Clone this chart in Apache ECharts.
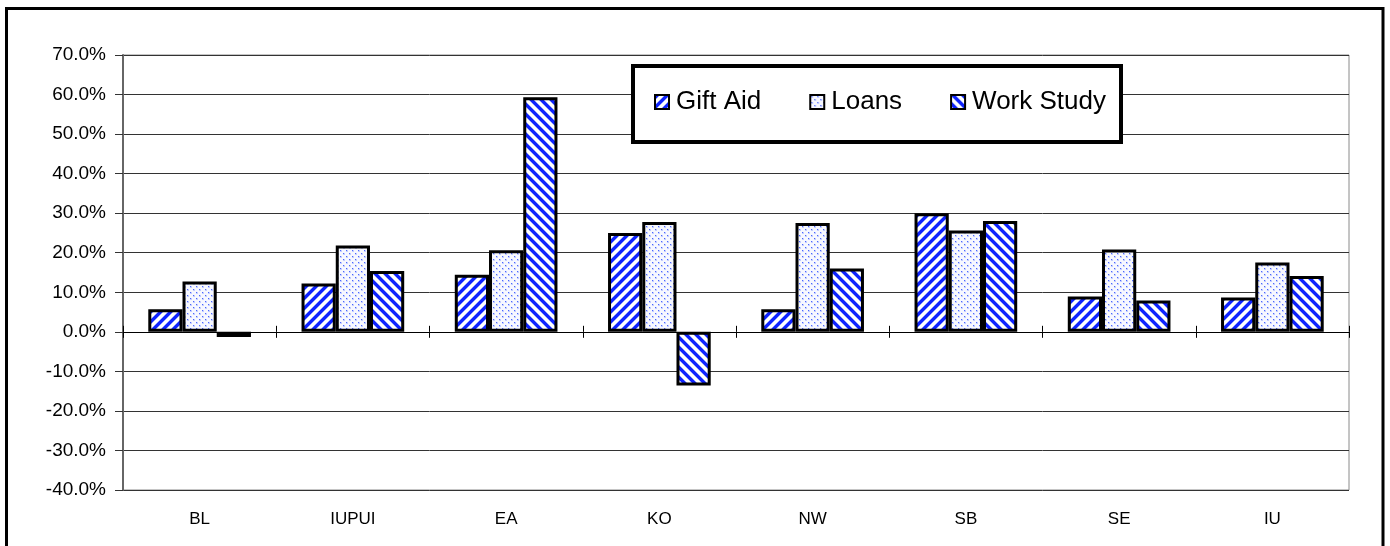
<!DOCTYPE html>
<html>
<head>
<meta charset="utf-8">
<script src="https://cdn.jsdelivr.net/npm/echarts@6/dist/echarts.min.js"></script>
<style>
html,body{margin:0;padding:0;background:#fff;}
#chart{width:1390px;height:546px;}
</style>
</head>
<body>
<div id="chart"></div>
<script>
const categories = ['BL', 'IUPUI', 'EA', 'KO', 'NW', 'SB', 'SE', 'IU'];
const giftAid   = [5.7, 12.2, 14.4, 25.0, 5.7, 30.0, 8.9, 8.7];
const loans     = [12.7, 21.8, 20.6, 27.8, 27.5, 25.6, 20.8, 17.5];
const workStudy = [-1.3, 15.4, 59.3, -13.6, 16.0, 28.0, 7.9, 14.1];
const seriesNames = ['Gift Aid', 'Loans', 'Work Study'];
const yMin = -40, yMax = 70, yStep = 10;

function stripeTile(dir) {
  const n = 10, c = document.createElement('canvas');
  c.width = n; c.height = n;
  const ctx = c.getContext('2d');
  const img = ctx.createImageData(n, n);
  for (let y = 0; y < n; y++) for (let x = 0; x < n; x++) {
    const k = dir > 0 ? ((x + y) % n) : (((x - y) % n) + n) % n;
    let r = 255, g = 255, b = 255;
    if (k < 4) { r = 15; g = 35; b = 255; }
    else if (k === 4 || k === 9) { r = 150; g = 165; b = 255; }
    const i = (y * n + x) * 4;
    img.data[i] = r; img.data[i+1] = g; img.data[i+2] = b; img.data[i+3] = 255;
  }
  ctx.putImageData(img, 0, 0);
  return c;
}
function dotTile() {
  const n = 6, c = document.createElement('canvas');
  c.width = n; c.height = n;
  const ctx = c.getContext('2d');
  ctx.fillStyle = '#f7f8ff'; ctx.fillRect(0, 0, n, n);
  ctx.fillStyle = '#c4cdff';
  ctx.fillRect(0, 0, 3, 3); ctx.fillRect(3, 3, 3, 3);
  ctx.fillStyle = '#f7f8ff';
  ctx.fillRect(0, 0, 3, 1); ctx.fillRect(0, 0, 1, 3); ctx.fillRect(3, 3, 3, 1); ctx.fillRect(3, 3, 1, 3);
  ctx.fillStyle = '#4a66ff';
  ctx.fillRect(1, 1, 1, 1); ctx.fillRect(4, 4, 1, 1);
  return c;
}
const fills = [
  { image: stripeTile(1), repeat: 'repeat' },
  { image: dotTile(), repeat: 'repeat' },
  { image: stripeTile(-1), repeat: 'repeat' }
];
const dataSets = [giftAid, loans, workStudy];

const chart = echarts.init(document.getElementById('chart'), null, { renderer: 'canvas' });
const font = "'Liberation Sans', Arial, sans-serif";

chart.setOption({
  animation: false,
  backgroundColor: '#fff',
  grid: { left: 123, right: 41, top: 55, bottom: 56, show: true, borderColor: '#8a8a8a', borderWidth: 1, backgroundColor: 'transparent' },
  legend: {
    data: seriesNames,
    left: 654, top: 89,
    itemWidth: 14, itemHeight: 14, itemGap: 48, icon: 'rect',
    padding: 0,
    itemStyle: { borderColor: '#000', borderWidth: 2 },
    textStyle: { fontFamily: font, fontSize: 26, color: '#000', padding: [0, 0, 0, 2] }
  },
  xAxis: [
    { type: 'category', data: categories, position: 'bottom',
      axisLine: { show: false, onZero: false }, axisTick: { show: false },
      axisLabel: { fontFamily: font, fontSize: 17, color: '#000', margin: 21 } },
    { type: 'category', data: categories, position: 'bottom',
      axisLine: { show: true, onZero: true, onZeroAxisIndex: 0, lineStyle: { color: '#000', width: 1 } },
      axisTick: { show: true, length: 6, lineStyle: { color: '#000' } },
      axisLabel: { show: false } },
    { type: 'category', data: categories, position: 'bottom',
      axisLine: { show: true, onZero: true, onZeroAxisIndex: 1, lineStyle: { color: '#000', width: 1 } },
      axisTick: { show: true, inside: true, length: 6, lineStyle: { color: '#000' } },
      axisLabel: { show: false } }
  ],
  yAxis: [
    { type: 'value', min: yMin, max: yMax, interval: yStep,
      axisLine: { show: true, lineStyle: { color: '#666', width: 2 } },
      axisTick: { show: true, length: 8, lineStyle: { color: '#333' } },
      axisLabel: { fontFamily: font, fontSize: 19, color: '#000', margin: 17,
        formatter: v => v.toFixed(1) + '%' },
      splitLine: { show: true, lineStyle: { color: '#333', width: 1 } } },
    { type: 'value', min: yMin, max: yMax, interval: yStep, position: 'right',
      axisLine: { show: false }, axisTick: { show: false },
      axisLabel: { show: false }, splitLine: { show: false } }
  ],
  series: seriesNames.map((name, i) => ({
    name: name, type: 'bar', xAxisIndex: 0, yAxisIndex: 0, data: dataSets[i],
    barGap: '0%', barCategoryGap: '33%',
    itemStyle: { color: fills[i], borderColor: '#000', borderWidth: 3 },
    emphasis: { disabled: true }
  })),
  graphic: [
    { type: 'rect', shape: { x: 6.5, y: 8.5, width: 1376.5, height: 580 },
      style: { fill: 'none', stroke: '#000', lineWidth: 3 }, silent: true, z: 100 },
    { type: 'rect', shape: { x: 633, y: 66, width: 488, height: 76 },
      style: { fill: '#fff', stroke: '#000', lineWidth: 4 }, silent: true, z: 1 }
  ]
});
</script>
</body>
</html>
